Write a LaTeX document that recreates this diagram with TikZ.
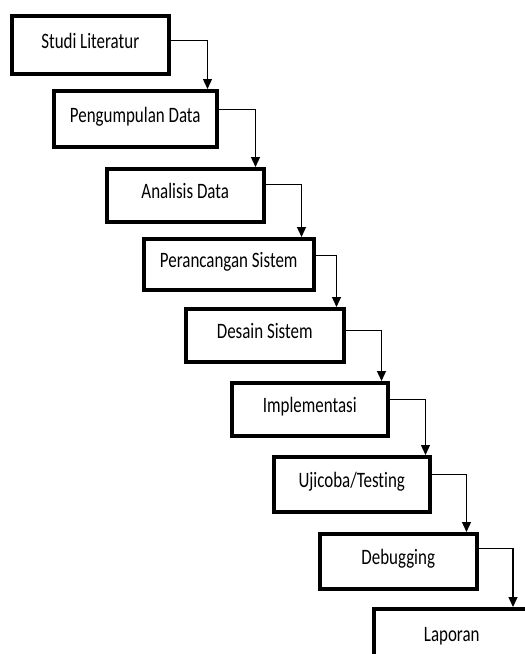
\documentclass[tikz,border=0pt]{standalone}
\usepackage{fontspec}
\setmainfont{Carlito}[FakeStretch=0.77,Ligatures=NoCommon]
\usetikzlibrary{arrows.meta}
\begin{document}
\begin{tikzpicture}[x=1pt,y=-1pt,
 box/.style={draw=black, line width=3.5pt, fill=white, inner sep=0pt, anchor=north west,
   text height=15pt, text depth=7.6pt, font=\fontsize{22}{26}\selectfont},
 flow/.style={draw=black, line width=1.3pt, -{Triangle[width=9pt,length=10pt]}}]
\useasboundingbox (0,0) rectangle (525,654);
\clip (0,0) rectangle (525,654);
\fill[white] (0,0) rectangle (525,654);
\node[box, minimum width=157pt, minimum height=58pt] (b1) at (10,14) {Studi Literatur};
\node[box, minimum width=163pt, minimum height=56pt] (b2) at (52,89) {Pengumpulan Data};
\node[box, minimum width=157pt, minimum height=53pt] (b3) at (105,167) {Analisis Data};
\node[box, minimum width=170pt, minimum height=51pt] (b4) at (142,237) {Perancangan Sistem};
\node[box, minimum width=158pt, minimum height=53pt] (b5) at (184,307) {Desain Sistem};
\node[box, minimum width=156pt, minimum height=53pt] (b6) at (230,381) {Implementasi};
\node[box, minimum width=156pt, minimum height=55pt] (b7) at (272,455) {Ujicoba/Testing};
\node[box, minimum width=157pt, minimum height=55pt] (b8) at (318,532) {Debugging};
\node[box, minimum width=156pt, minimum height=58pt] (b9) at (372,607) {Laporan};
\draw[flow] ([yshift=4pt]b1.east) -| ([xshift=-11pt]b2.north east);
\draw[flow] ([yshift=9pt]b2.east) -| ([xshift=-10pt]b3.north east);
\draw[flow] ([yshift=11pt]b3.east) -| ([xshift=-14pt]b4.north east);
\draw[flow] ([yshift=8.5pt]b4.east) -| ([xshift=-9pt]b5.north east);
\draw[flow] ([yshift=4.5pt]b5.east) -| ([xshift=-8pt]b6.north east);
\draw[flow] ([yshift=9.5pt]b6.east) -| ([xshift=-6pt]b7.north east);
\draw[flow] ([yshift=9.5pt]b7.east) -| ([xshift=-12pt]b8.north east);
\draw[flow] ([yshift=12.5pt]b8.east) -| ([xshift=141pt]b9.north west);
\end{tikzpicture}
\end{document}
